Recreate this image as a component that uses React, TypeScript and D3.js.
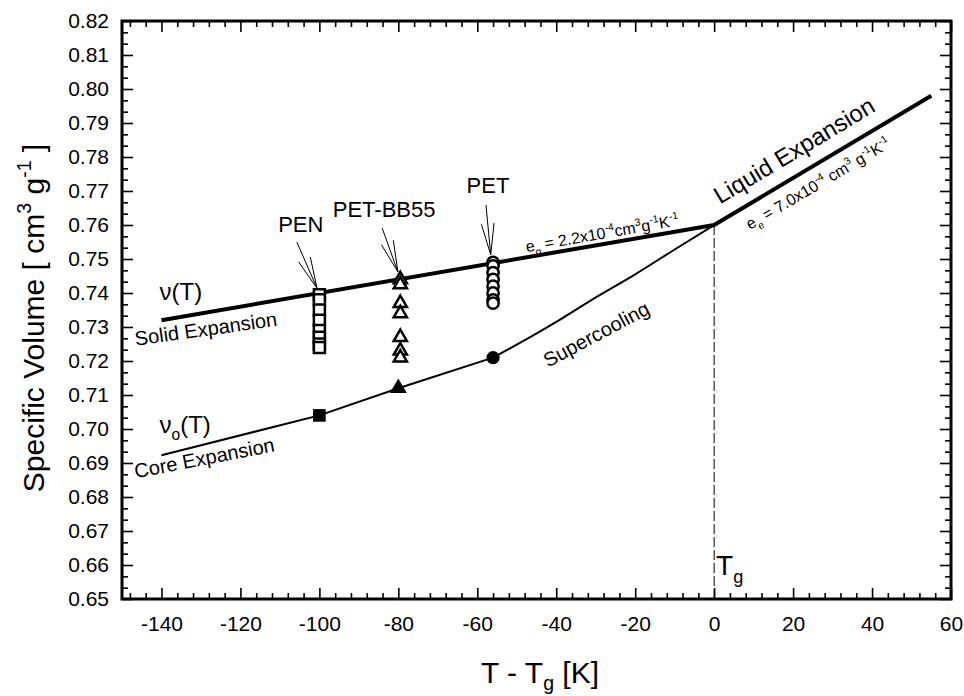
import { useEffect, useRef } from 'react';
import * as d3 from 'd3';

// thick line: solid expansion below Tg, liquid expansion above
const solidLine: [number, number][] = [[-140, 0.732], [0, 0.760], [55, 0.798]];
// thin line: core expansion + supercooling
const coreLine: [number, number][] = [[-140, 0.6923], [-100, 0.704], [-80, 0.712], [-56, 0.721]];
const superLine: [number, number][] = [[-56, 0.721], [-50, 0.7248], [-40, 0.7315], [-31, 0.738], [-20, 0.7455], [-10, 0.7528], [0, 0.760]];

const penOpen = [0.7395, 0.738, 0.735, 0.732, 0.729, 0.727, 0.725, 0.724];
const bbOpen = [0.744, 0.7425, 0.737, 0.734, 0.727, 0.723, 0.721];
const petOpen = [0.749, 0.748, 0.746, 0.744, 0.742, 0.740, 0.738, 0.737];
const coreMarks = [
  { x: -100, y: 0.704, shape: 'square' },
  { x: -80, y: 0.712, shape: 'triangle' },
  { x: -56, y: 0.721, shape: 'circle' },
];

const xTicks = [-140, -120, -100, -80, -60, -40, -20, 0, 20, 40, 60];
const yTicks = d3.range(0, 18).map(i => +(0.65 + i * 0.01).toFixed(2));

// labels and arrows (label centre, arrow start, arrow tip) in data units
const samples = [
  { name: 'PEN', lx: -104.7, ly: 0.7579, from: [-105.7, 0.7550], to: [-100.6, 0.7414] },
  { name: 'PET-BB55', lx: -83.6, ly: 0.7624, from: [-84.1, 0.7591], to: [-80.1, 0.7462] },
  { name: 'PET', lx: -57.3, ly: 0.7694, from: [-57.8, 0.7659], to: [-56.6, 0.7512] },
];

const W = 964;
const H = 696;
const FONT = '"Liberation Sans", Arial, Helvetica, sans-serif';

type Part = [string, string | null];

function rich(t: any, parts: Part[], size: number, subShift = 0.3) {
  let off = 0;
  parts.forEach(([s, k]) => {
    const target = k === 'sup' ? -0.42 * size : k === 'sub' ? subShift * size : 0;
    t.append('tspan')
      .attr('dy', target - off)
      .attr('font-size', k ? size * 0.65 : size)
      .text(s);
    off = target;
  });
}

export default function App() {
  const ref = useRef<SVGSVGElement>(null);

  useEffect(() => {
    const svg = d3.select(ref.current);
    svg.selectAll('*').remove();

    const x = d3.scaleLinear().domain([-150, 60]).range([122, 951]);
    const y = d3.scaleLinear().domain([0.65, 0.82]).range([599, 21]);

    const g = svg.append('g').attr('font-family', FONT);

    // axes (ticks pointing inward)
    const xMinor = d3.range(-148, 61, 4).filter(v => v % 20 !== 0);
    const yMinor = d3.range(0, 52).map(i => 0.65 + i * 0.01 / 3).filter((_, i) => i % 3 !== 0);

    const styleAxis = (a: any) => {
      a.select('.domain').remove();
      a.selectAll('line').attr('stroke', '#000').attr('stroke-width', 1.6);
      a.selectAll('text').attr('font-family', FONT).attr('font-size', 21).attr('fill', '#000');
    };

    g.append('g').attr('transform', `translate(0,599)`)
      .call(d3.axisBottom(x).tickValues(xTicks).tickSize(-11).tickPadding(17).tickFormat(d => String(d)))
      .call(styleAxis);
    g.append('g').attr('transform', `translate(0,599)`)
      .call(d3.axisBottom(x).tickValues(xMinor).tickSize(-6).tickFormat(() => ''))
      .call(styleAxis);
    g.append('g').attr('transform', `translate(0,21)`)
      .call(d3.axisTop(x).tickValues(xTicks).tickSize(-11).tickFormat(() => ''))
      .call(styleAxis);
    g.append('g').attr('transform', `translate(0,21)`)
      .call(d3.axisTop(x).tickValues(xMinor).tickSize(-6).tickFormat(() => ''))
      .call(styleAxis);

    g.append('g').attr('transform', `translate(122,0)`)
      .call(d3.axisLeft(y).tickValues(yTicks).tickSize(-11).tickPadding(13).tickFormat(d3.format('.2f')))
      .call(styleAxis);
    g.append('g').attr('transform', `translate(122,0)`)
      .call(d3.axisLeft(y).tickValues(yMinor).tickSize(-6).tickFormat(() => ''))
      .call(styleAxis);
    g.append('g').attr('transform', `translate(951,0)`)
      .call(d3.axisRight(y).tickValues(yTicks).tickSize(-11).tickFormat(() => ''))
      .call(styleAxis);
    g.append('g').attr('transform', `translate(951,0)`)
      .call(d3.axisRight(y).tickValues(yMinor).tickSize(-6).tickFormat(() => ''))
      .call(styleAxis);

    // frame
    g.append('rect')
      .attr('x', 122).attr('y', 21)
      .attr('width', 951 - 122).attr('height', 599 - 21)
      .attr('fill', 'none').attr('stroke', '#000').attr('stroke-width', 3);

    // Tg dashed line
    g.append('line')
      .attr('x1', x(0)).attr('x2', x(0))
      .attr('y1', y(0.760)).attr('y2', y(0.65))
      .attr('stroke', '#000').attr('stroke-width', 1).attr('stroke-dasharray', '10,3');

    const line = d3.line<[number, number]>().x(d => x(d[0])).y(d => y(d[1]));

    g.append('path').attr('d', line(solidLine)!)
      .attr('fill', 'none').attr('stroke', '#000').attr('stroke-width', 4).attr('stroke-linejoin', 'round');
    g.append('path').attr('d', line(coreLine)!)
      .attr('fill', 'none').attr('stroke', '#000').attr('stroke-width', 2);
    g.append('path').attr('d', line.curve(d3.curveMonotoneX)(superLine)!)
      .attr('fill', 'none').attr('stroke', '#000').attr('stroke-width', 2);
    line.curve(d3.curveLinear);

    // open markers
    const sq = d3.symbol().type(d3.symbolSquare).size(121)();
    const tri = d3.symbol().type(d3.symbolTriangle).size(75)();
    const circ = d3.symbol().type(d3.symbolCircle).size(100)();

    const openMarks = (vals: number[], xv: number, path: string | null) => {
      g.append('g').selectAll('path').data(vals).enter().append('path')
        .attr('d', path)
        .attr('transform', d => `translate(${x(xv)},${y(d)})`)
        .attr('fill', '#fff').attr('stroke', '#000').attr('stroke-width', 2.5);
    };
    openMarks(penOpen, -100, sq);
    openMarks(bbOpen, -79.5, tri);
    openMarks(petOpen, -56, circ);

    g.append('g').selectAll('path').data(coreMarks).enter().append('path')
      .attr('d', d => (d.shape === 'square' ? d3.symbol().type(d3.symbolSquare).size(160)()
        : d.shape === 'triangle' ? d3.symbol().type(d3.symbolTriangle).size(125)()
          : d3.symbol().type(d3.symbolCircle).size(140)()))
      .attr('transform', d => `translate(${x(d.x)},${y(d.y)})`)
      .attr('fill', '#000');

    // sample labels with arrows
    samples.forEach(s => {
      g.append('text').attr('x', x(s.lx)).attr('y', y(s.ly))
        .attr('text-anchor', 'middle').attr('font-size', 22).text(s.name);
      const x0 = x(s.from[0]), y0 = y(s.from[1]);
      const x1 = x(s.to[0]), y1 = y(s.to[1]);
      const ang = Math.atan2(y1 - y0, x1 - x0);
      const len = 32, spread = 0.2;
      const p = `M${x0},${y0}L${x1},${y1}` +
        `M${x1 - len * Math.cos(ang - spread)},${y1 - len * Math.sin(ang - spread)}L${x1},${y1}` +
        `L${x1 - len * Math.cos(ang + spread)},${y1 - len * Math.sin(ang + spread)}`;
      g.append('path').attr('d', p).attr('fill', 'none').attr('stroke', '#000').attr('stroke-width', 1);
    });

    // curve annotations
    const label = (px: number, py: number, rot: number, parts: Part[], size: number) => {
      const t = g.append('text')
        .attr('transform', `translate(${px},${py}) rotate(${rot})`)
        .attr('fill', '#000');
      rich(t, parts, size);
    };

    label(x(-140.5), y(0.7378), 0, [['\u03bd(T)', null]], 24);
    label(x(-146.5), y(0.7245), -8, [['Solid Expansion', null]], 20);
    label(x(-140.5), y(0.6988), 0, [['\u03bd', null], ['o', 'sub'], ['(T)', null]], 24);
    label(x(-146.5), y(0.6855), -11, [['Core Expansion', null]], 20);
    label(x(-42.1), y(0.7180), -28, [['Supercooling', null]], 20);
    label(x(1.5), y(0.7660), -31, [['Liquid Expansion', null]], 24);
    label(x(9.1), y(0.7585), -30.5,
      [['e', null], ['e', 'sub'], [' = 7.0x10', null], ['-4', 'sup'], [' cm', null], ['3', 'sup'],
        [' g', null], ['-1', 'sup'], ['K', null], ['-1', 'sup']], 16);
    label(x(-47.5), y(0.7520), -10,
      [['e', null], ['g', 'sub'], [' = 2.2x10', null], ['-4', 'sup'], ['cm', null], ['3', 'sup'],
        ['g', null], ['-1', 'sup'], ['K', null], ['-1', 'sup']], 16);

    label(x(0.5), y(0.6571), 0, [['T', null], ['g', 'sub']], 28);

    // axis titles
    const xt = g.append('text').attr('x', 540).attr('y', 683).attr('text-anchor', 'middle');
    rich(xt, [['T - T', null], ['g', 'sub'], [' [K]', null]], 30, 0.22);

    const yt = g.append('text')
      .attr('transform', `translate(44,318) rotate(-90)`)
      .attr('text-anchor', 'middle');
    rich(yt, [['Specific Volume [ cm', null], ['3', 'sup'], [' g', null], ['-1', 'sup'], [' ]', null]], 30);
  }, []);

  return (
    <svg
      ref={ref}
      width={W}
      height={H}
      style={{ position: 'absolute', left: 0, top: 0, background: '#fff' }}
    />
  );
}
